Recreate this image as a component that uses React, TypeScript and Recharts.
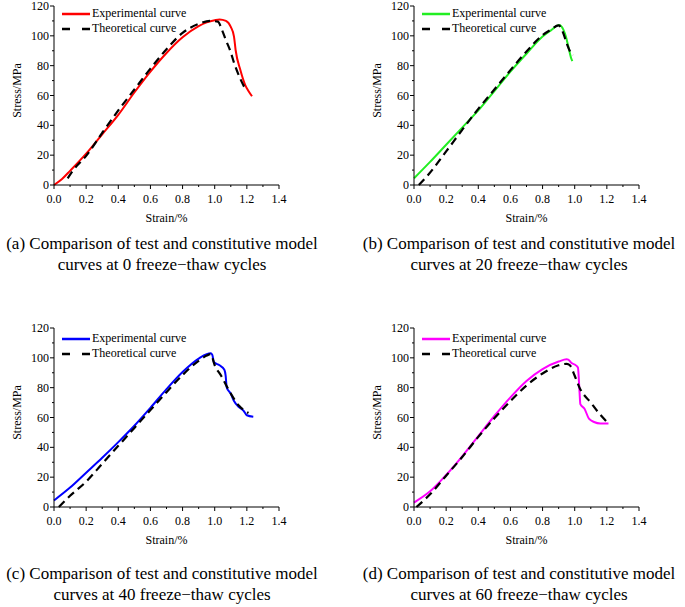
import * as React from "react";
import { LineChart, Line, XAxis, YAxis } from "recharts";

// strain (%) / stress (MPa)
const expStrainA = [0, 0.05, 0.1, 0.2, 0.3, 0.4, 0.5, 0.6, 0.7, 0.8, 0.9, 0.95, 1.0, 1.03, 1.07, 1.1, 1.12, 1.13, 1.16, 1.19, 1.21, 1.232];
const expStressA = [0, 4, 9.5, 21, 34, 47, 62, 76, 88.5, 99, 106.5, 109, 110.5, 111, 110, 106, 99.5, 90.5, 77, 67, 63, 59.5];
const theoStrainA = [0.085, 0.12, 0.2, 0.3, 0.4, 0.5, 0.6, 0.7, 0.8, 0.9, 0.97, 1.02, 1.045, 1.07, 1.1, 1.12, 1.16, 1.19];
const theoStressA = [4.5, 10, 19.5, 35, 50, 64, 78, 91, 102, 108, 110, 109.5, 104, 97, 89, 82, 71, 64.5];

const expStrainB = [0, 0.1, 0.2, 0.3, 0.4, 0.5, 0.6, 0.7, 0.8, 0.85, 0.904, 0.93, 0.945, 0.96, 0.978, 0.985];
const expStressB = [4.5, 15.5, 27, 38.5, 50, 63, 76, 88, 99.5, 103.5, 107.3, 104, 99.5, 93, 85, 83];
const theoStrainB = [0.03, 0.09, 0.2, 0.3, 0.4, 0.5, 0.6, 0.7, 0.8, 0.85, 0.9, 0.93, 0.95, 0.98, 0.99];
const theoStressB = [0, 7, 22.5, 37, 51, 64, 77, 89.5, 100.5, 104, 107, 101.5, 95, 88, 87];

const expStrainC = [0, 0.1, 0.2, 0.3, 0.4, 0.5, 0.6, 0.7, 0.8, 0.9, 0.95, 0.975, 0.985, 0.995, 1.03, 1.06, 1.068, 1.075, 1.1, 1.12, 1.15, 1.18, 1.2, 1.24];
const expStressC = [4.4, 13, 23, 33, 43.5, 54.5, 66.5, 79, 90.5, 99.5, 102.5, 103, 102, 97, 95, 92, 88, 80, 76, 71, 67, 64.5, 61.5, 60.5];
const theoStrainC = [0.03, 0.1, 0.2, 0.3, 0.4, 0.5, 0.6, 0.7, 0.8, 0.9, 0.95, 0.975, 1.0, 1.04, 1.1, 1.15, 1.21];
const theoStressC = [0, 7.5, 17, 29, 41, 53, 65, 77, 88.5, 98, 101.5, 102.5, 95, 88, 76, 68, 63];

const expStrainD = [0, 0.1, 0.2, 0.3, 0.4, 0.5, 0.6, 0.7, 0.8, 0.9, 0.95, 0.96, 0.98, 1.0, 1.02, 1.03, 1.035, 1.06, 1.09, 1.12, 1.16, 1.21];
const expStressD = [3, 10.5, 21.5, 34, 47.5, 61, 73.5, 84.5, 92.5, 97.5, 99, 98.8, 96.5, 95.5, 93.5, 77, 69, 66, 59, 57, 56, 56];
const theoStrainD = [0.015, 0.1, 0.2, 0.3, 0.4, 0.5, 0.6, 0.7, 0.8, 0.9, 0.95, 0.97, 1.0, 1.03, 1.1, 1.15, 1.21];
const theoStressD = [0, 8.5, 21, 33.5, 47, 59.5, 71, 81.5, 89.5, 95, 96, 95, 88, 80, 70, 63, 56];

const xTicks = [0, 0.1, 0.2, 0.3, 0.4, 0.5, 0.6, 0.7, 0.8, 0.9, 1.0, 1.1, 1.2, 1.3, 1.4];
const yTicks = [0, 10, 20, 30, 40, 50, 60, 70, 80, 90, 100, 110, 120];

const FONT = '"Liberation Serif", "Times New Roman", serif';

function toPoints(strain: number[], stress: number[]) {
  return strain.map((s, i) => ({ strain: s, stress: stress[i] }));
}

const panels = [
  {
    left: 0, top: 0, color: "#ff0000", legendTop: 6,
    exp: toPoints(expStrainA, expStressA), theo: toPoints(theoStrainA, theoStressA),
    caption: ["(a) Comparison of test and constitutive model", "curves at 0 freeze\u2212thaw cycles"],
    capLeft: 0, capTop: 233,
  },
  {
    left: 360, top: 0, color: "#22ee22", legendTop: 6,
    exp: toPoints(expStrainB, expStressB), theo: toPoints(theoStrainB, theoStressB),
    caption: ["(b) Comparison of test and constitutive model", "curves at 20 freeze\u2212thaw cycles"],
    capLeft: 357, capTop: 233,
  },
  {
    left: 0, top: 322, color: "#0000ff", legendTop: 9,
    exp: toPoints(expStrainC, expStressC), theo: toPoints(theoStrainC, theoStressC),
    caption: ["(c) Comparison of test and constitutive model", "curves at 40 freeze\u2212thaw cycles"],
    capLeft: 0, capTop: 563,
  },
  {
    left: 360, top: 322, color: "#ff00ff", legendTop: 9,
    exp: toPoints(expStrainD, expStressD), theo: toPoints(theoStrainD, theoStressD),
    caption: ["(d) Comparison of test and constitutive model", "curves at 60 freeze\u2212thaw cycles"],
    capLeft: 357, capTop: 563,
  },
];

function XTick(props: any) {
  const { x, y, payload } = props;
  const v = payload.value as number;
  const major = Math.abs(v * 5 - Math.round(v * 5)) < 1e-6;
  return (
    <g>
      <line x1={x} y1={y} x2={x} y2={y + (major ? 4 : 2)} stroke="#000" strokeWidth={1} />
      {major && (
        <text x={x} y={y + 18} textAnchor="middle" fontSize={12} fontFamily={FONT} fill="#000">
          {v.toFixed(1)}
        </text>
      )}
    </g>
  );
}

function YTick(props: any) {
  const { x, y, payload } = props;
  const v = payload.value as number;
  const major = v % 20 === 0;
  return (
    <g>
      <line x1={x} y1={y} x2={x - (major ? 4 : 2)} y2={y} stroke="#000" strokeWidth={1} />
      {major && (
        <text x={x - 5} y={y + 4} textAnchor="end" fontSize={12} fontFamily={FONT} fill="#000">
          {v}
        </text>
      )}
    </g>
  );
}

function LegendBox({ color, left, top }: { color: string; left: number; top: number }) {
  const row: React.CSSProperties = { display: "flex", alignItems: "center", height: 15 };
  const label: React.CSSProperties = { fontSize: 12, fontFamily: FONT, color: "#000", marginLeft: 2, whiteSpace: "nowrap", lineHeight: "15px" };
  return (
    <div style={{ position: "absolute", left, top }}>
      <div style={row}>
        <svg width={28} height={6}>
          <line x1={0} y1={3} x2={28} y2={3} stroke={color} strokeWidth={2.5} />
        </svg>
        <span style={label}>Experimental curve</span>
      </div>
      <div style={row}>
        <svg width={28} height={6}>
          <line x1={0} y1={3} x2={28} y2={3} stroke="#000" strokeWidth={2.5} strokeDasharray="8 12" />
        </svg>
        <span style={label}>Theoretical curve</span>
      </div>
    </div>
  );
}

function Panel({ p }: { p: (typeof panels)[number] }) {
  return (
    <div style={{ position: "absolute", left: p.left, top: p.top, width: 290, height: 230 }}>
      <LineChart width={290} height={230} margin={{ top: 6, right: 11, left: 0, bottom: 0 }}>
        <XAxis
          type="number"
          dataKey="strain"
          domain={[0, 1.4]}
          ticks={xTicks}
          interval={0}
          tickSize={0}
          tickMargin={0}
          tick={<XTick />}
          height={45}
          stroke="#000"
          label={{ value: "Strain/%", position: "center", dy: 10, fontSize: 12, fontFamily: FONT, fill: "#000" }}
        />
        <YAxis
          type="number"
          dataKey="stress"
          domain={[0, 120]}
          ticks={yTicks}
          interval={0}
          tickSize={0}
          tickMargin={0}
          tick={<YTick />}
          width={54}
          stroke="#000"
          label={{ value: "Stress/MPa", angle: -90, position: "center", dx: -10, dy: -5, fontSize: 12, fontFamily: FONT, fill: "#000" }}
        />
        <Line
          data={p.exp}
          dataKey="stress"
          type="monotone"
          stroke={p.color}
          strokeWidth={2}
          dot={false}
          isAnimationActive={false}
        />
        <Line
          data={p.theo}
          dataKey="stress"
          type="monotone"
          stroke="#000"
          strokeWidth={2.2}
          strokeDasharray="8 5"
          dot={false}
          isAnimationActive={false}
        />
      </LineChart>
      <LegendBox color={p.color} left={62} top={p.legendTop} />
    </div>
  );
}

export default function App() {
  return (
    <div style={{ position: "absolute", left: 0, top: 0, width: 685, height: 607, background: "#fff", fontFamily: FONT }}>
      {panels.map((p, i) => (
        <React.Fragment key={i}>
          <Panel p={p} />
          <div
            style={{
              position: "absolute",
              left: p.capLeft,
              top: p.capTop,
              width: 324,
              textAlign: "center",
              fontSize: 17,
              lineHeight: "21px",
              color: "#000",
              whiteSpace: "nowrap",
            }}
          >
            {p.caption[0]}
            <br />
            {p.caption[1]}
          </div>
        </React.Fragment>
      ))}
    </div>
  );
}
